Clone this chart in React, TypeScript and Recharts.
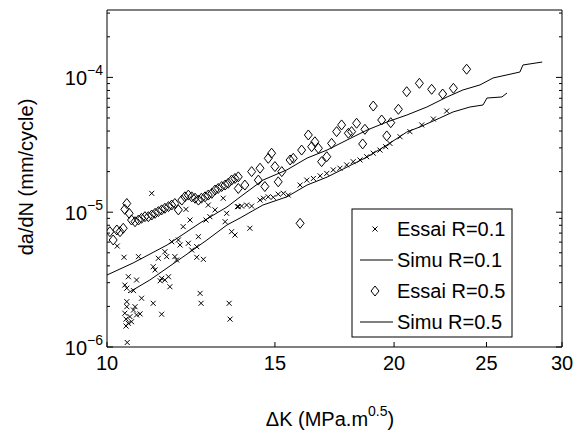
import React from 'react';
import { ComposedChart, XAxis, YAxis, Scatter, Line } from 'recharts';

// measured points, Essai R=0.1 (crosses)
const essaiR01K = [
  11.14, 10.25, 12.1, 12.77, 12.98, 12.7, 12.82, 13.35, 13.7, 13.3, 13.51, 13.62, 12.22, 12.02,
  10.42, 10.79, 11.69, 11.88, 11.93, 12.17, 12.47, 12.42, 12.27, 12.62, 12.42, 11.32, 11.5, 11.55,
  11.78, 11.83, 11.18, 11.23, 11.41, 11.5, 11.6, 11.64, 11.37, 10.53, 10.74, 10.44, 10.49, 10.66,
  10.87, 10.49, 10.49, 10.7, 10.66, 10.44, 10.57, 10.74, 10.83, 10.47, 10.53, 10.61, 10.47, 11.18,
  11.41, 12.52, 12.55, 13.43, 13.46, 10.5, 13.24, 14.12, 13.73, 13.84, 14.01, 14.18, 14.47, 14.59,
  14.76, 14.94, 15.12, 15.31, 15.49, 15.94, 16.2, 16.46, 16.73, 17.0, 17.27, 17.55, 17.84, 18.12,
  18.42, 18.72, 19.02, 19.33, 19.6, 19.8, 20.29, 20.78, 21.38, 21.99, 22.71,
];
const essaiR01Rate = [
  1.38e-5, 5.61e-6, 1.05e-5, 1.13e-5, 1.04e-5, 8.75e-6, 9.26e-6, 9.81e-6, 1.1e-5, 8.5e-6, 7.17e-6, 6.77e-6, 8.75e-6, 7.81e-6,
  4.63e-6, 4.68e-6, 6.04e-6, 6.22e-6, 5.71e-6, 5.88e-6, 6.58e-6, 5.55e-6, 5.24e-6, 4.47e-6, 4.63e-6, 4.55e-6, 5.09e-6, 4.68e-6,
  4.68e-6, 4.42e-6, 3.94e-6, 3.73e-6, 3.23e-6, 3.14e-6, 3.32e-6, 2.8e-6, 3.1e-6, 3.32e-6, 3.14e-6, 2.88e-6, 2.73e-6, 2.62e-6,
  2.3e-6, 2.17e-6, 1.99e-6, 1.99e-6, 1.88e-6, 1.78e-6, 1.68e-6, 1.73e-6, 1.76e-6, 1.61e-6, 1.5e-6, 1.54e-6, 1.43e-6, 2.11e-6,
  1.75e-6, 2.5e-6, 2.11e-6, 2.11e-6, 1.61e-6, 1.08e-6, 1.27e-5, 7.6e-6, 1.1e-5, 1.11e-5, 1.13e-5, 1.11e-5, 1.23e-5, 1.27e-5,
  1.3e-5, 1.29e-5, 1.36e-5, 1.38e-5, 1.34e-5, 1.59e-5, 1.73e-5, 1.78e-5, 1.86e-5, 1.94e-5, 2.06e-5, 2.12e-5, 2.24e-5, 2.37e-5,
  2.44e-5, 2.58e-5, 2.74e-5, 2.89e-5, 3.06e-5, 3.24e-5, 3.63e-5, 3.96e-5, 4.44e-5, 4.91e-5, 5.63e-5,
];

// measured points, Essai R=0.5 (diamonds)
const essaiR05K = [
  10.07, 10.15, 10.24, 10.32, 10.4, 10.44, 10.49, 10.55, 10.61, 10.7, 10.79, 10.87, 10.96, 11.05,
  11.14, 11.23, 11.32, 11.41, 11.5, 11.6, 11.69, 11.78, 11.88, 11.98, 12.07, 12.17, 12.27, 12.37,
  12.47, 12.56, 12.67, 12.77, 12.88, 12.98, 13.08, 13.19, 13.3, 13.4, 13.51, 13.62, 13.73, 13.73,
  13.95, 14.18, 14.41, 14.47, 14.64, 14.76, 14.88, 15.0, 15.12, 15.25, 15.56, 15.68, 15.94, 16.0,
  16.26, 16.39, 16.52, 16.66, 16.79, 17.0, 17.2, 17.41, 17.62, 17.91, 18.05, 18.27, 18.54, 18.64,
  19.02, 19.41, 19.65, 19.84, 20.21, 20.62, 21.26, 21.9, 22.49, 23.08, 23.83,
];
const essaiR05Rate = [
  7.17e-6, 6.22e-6, 7.38e-6, 7.17e-6, 7.6e-6, 1.05e-5, 1.16e-5, 9.81e-6, 8.75e-6, 8.5e-6, 8.75e-6, 9.01e-6, 9.26e-6, 9.26e-6,
  9.53e-6, 9.81e-6, 1.01e-5, 1.04e-5, 1.07e-5, 1.1e-5, 1.13e-5, 1.16e-5, 1.04e-5, 1.23e-5, 1.3e-5, 1.34e-5, 1.3e-5, 1.27e-5,
  1.23e-5, 1.27e-5, 1.3e-5, 1.34e-5, 1.38e-5, 1.46e-5, 1.5e-5, 1.55e-5, 1.59e-5, 1.64e-5, 1.73e-5, 1.78e-5, 1.83e-5, 1.5e-5,
  1.59e-5, 2.0e-5, 1.73e-5, 2.12e-5, 1.55e-5, 2.51e-5, 2.74e-5, 2.18e-5, 1.68e-5, 2.0e-5, 2.44e-5, 2.51e-5, 8.27e-6, 2.89e-5,
  3.74e-5, 3.06e-5, 3.33e-5, 2.98e-5, 2.37e-5, 2.58e-5, 3.24e-5, 3.96e-5, 4.44e-5, 3.85e-5, 3.96e-5, 4.57e-5, 3.21e-5, 4.12e-5,
  6.13e-5, 4.83e-5, 3.68e-5, 4.61e-5, 5.8e-5, 7.83e-5, 9.04e-5, 8.16e-5, 7.53e-5, 8.3e-5, 1.15e-4,
];

// simulation curves
const simuR01K = [10.52, 11.09, 12.01, 12.73, 13.36, 13.79, 14.57, 15.44, 16.21, 17.01, 17.85, 18.74, 19.66, 20.63, 21.29, 22.34, 23.06, 24.02, 24.79, 25.03, 25.95, 26.27];
const simuR01Rate = [2.52e-6, 3.14e-6, 4.65e-6, 6.22e-6, 8.04e-6, 9.06e-6, 1.13e-5, 1.3e-5, 1.59e-5, 1.82e-5, 2.16e-5, 2.57e-5, 3.15e-5, 3.94e-5, 4.29e-5, 5.0e-5, 5.54e-5, 6.03e-5, 6.24e-5, 7.03e-5, 7.16e-5, 7.66e-5];
const simuR05K = [10.0, 10.65, 11.56, 12.52, 13.36, 13.79, 14.57, 15.44, 16.21, 17.01, 17.85, 18.74, 19.66, 20.63, 21.65, 22.73, 23.62, 24.61, 25.4, 27.1, 27.3, 28.6];
const simuR05Rate = [3.42e-6, 4.2e-6, 5.71e-6, 8.32e-6, 1.093e-5, 1.297e-5, 1.73e-5, 2.06e-5, 2.52e-5, 2.89e-5, 3.43e-5, 4.07e-5, 4.67e-5, 5.26e-5, 6.03e-5, 7.16e-5, 8.07e-5, 8.79e-5, 9.9e-5, 1.096e-4, 1.236e-4, 1.3e-4];

const xTicks = [10, 15, 20, 25, 30];
const yDecades = [1e-6, 1e-5, 1e-4];
const yMinor = [2, 3, 4, 5, 6, 7, 8, 9];
const yTicks = [
  ...yDecades,
  ...yDecades.flatMap((d) => yMinor.map((m) => m * d)).filter((v) => v < 3.2e-4),
];
const legendNames = ['Essai R=0.1', 'Simu R=0.1', 'Essai R=0.5', 'Simu R=0.5'];

const pts = (ks: number[], vs: number[]) => ks.map((k, i) => ({ k, v: vs[i] }));

const FONT = '"Liberation Sans", Arial, Helvetica, sans-serif';

const isDecade = (v: number) => {
  const e = Math.log10(v);
  return Math.abs(e - Math.round(e)) < 1e-6;
};

const Cross = ({ cx, cy }: any) => (
  <path
    d={`M${cx - 2.5},${cy - 2.5}L${cx + 2.5},${cy + 2.5}M${cx - 2.5},${cy + 2.5}L${cx + 2.5},${cy - 2.5}`}
    stroke="#000"
    strokeWidth={1}
    fill="none"
  />
);

const Diamond = ({ cx, cy }: any) => (
  <path
    d={`M${cx},${cy - 5}L${cx + 4},${cy}L${cx},${cy + 5}L${cx - 4},${cy}Z`}
    stroke="#000"
    strokeWidth={1}
    fill="none"
  />
);

const LeftTick = ({ x, y, payload }: any) => {
  const v = payload.value;
  const major = isDecade(v);
  const e = Math.round(Math.log10(v));
  return (
    <g>
      <line x1={x} x2={x + (major ? 6 : 3)} y1={y} y2={y} stroke="#000" />
      {major && (
        <text x={x - 4} y={y + 8} textAnchor="end" fontSize={20} fontFamily={FONT} fill="#000">
          10<tspan dy={-10} fontSize={14}>{'\u2212' + Math.abs(e)}</tspan>
        </text>
      )}
    </g>
  );
};

const RightTick = ({ x, y, payload }: any) => {
  const major = isDecade(payload.value);
  return <line x1={x} x2={x - (major ? 6 : 3)} y1={y} y2={y} stroke="#000" />;
};

const BottomTick = ({ x, y, payload }: any) => (
  <g>
    <line x1={x} x2={x} y1={y} y2={y - 5} stroke="#000" />
    <text x={x} y={y + 23} textAnchor="middle" fontSize={20} fontFamily={FONT} fill="#000">
      {payload.value}
    </text>
  </g>
);

const TopTick = ({ x, y }: any) => <line x1={x} x2={x} y1={y} y2={y + 5} stroke="#000" />;

const LegendBox = () => {
  const rows = [229, 260, 291, 322];
  return (
    <g>
      <rect x={352} y={209} width={160} height={128} fill="#fff" stroke="#000" />
      {legendNames.map((name, i) => {
        const cy = rows[i];
        let icon;
        if (i === 0) icon = <Cross cx={375} cy={cy} />;
        else if (i === 2) icon = <Diamond cx={375} cy={cy} />;
        else icon = <line x1={360} x2={393} y1={cy} y2={cy} stroke="#000" />;
        return (
          <g key={name}>
            {icon}
            <text x={397} y={cy + 7} fontSize={20} fontFamily={FONT} fill="#000">
              {name}
            </text>
          </g>
        );
      })}
    </g>
  );
};

export default function App() {
  return (
    <div style={{ position: 'absolute', left: 0, top: 0, background: '#fff' }}>
      <ComposedChart width={576} height={437} margin={{ top: 9, right: 13, bottom: 60, left: 0 }}>
        <XAxis
          dataKey="k"
          type="number"
          scale="log"
          domain={[10, 30]}
          ticks={xTicks}
          interval={0}
          height={30}
          tickSize={0}
          tickMargin={0}
          tickLine={false}
          axisLine={{ stroke: '#000' }}
          tick={<BottomTick />}
          allowDataOverflow
        />
        <XAxis
          xAxisId="top"
          orientation="top"
          type="number"
          scale="log"
          domain={[10, 30]}
          ticks={xTicks}
          interval={0}
          height={1}
          tickSize={0}
          tickMargin={0}
          tickLine={false}
          axisLine={{ stroke: '#000' }}
          tick={<TopTick />}
          allowDataOverflow
        />
        <YAxis
          dataKey="v"
          type="number"
          scale="log"
          domain={[1e-6, 3.162e-4]}
          ticks={yTicks}
          interval={0}
          width={107}
          tickSize={0}
          tickMargin={0}
          tickLine={false}
          axisLine={{ stroke: '#000' }}
          tick={<LeftTick />}
          allowDataOverflow
        />
        <YAxis
          yAxisId="right"
          orientation="right"
          type="number"
          scale="log"
          domain={[1e-6, 3.162e-4]}
          ticks={yTicks}
          interval={0}
          width={1}
          tickSize={0}
          tickMargin={0}
          tickLine={false}
          axisLine={{ stroke: '#000' }}
          tick={<RightTick />}
          allowDataOverflow
        />
        <Line data={pts(simuR01K, simuR01Rate)} dataKey="v" stroke="#000" strokeWidth={1} dot={false} isAnimationActive={false} />
        <Line data={pts(simuR05K, simuR05Rate)} dataKey="v" stroke="#000" strokeWidth={1} dot={false} isAnimationActive={false} />
        <Scatter data={pts(essaiR01K, essaiR01Rate)} shape={<Cross />} isAnimationActive={false} />
        <Scatter data={pts(essaiR05K, essaiR05Rate)} shape={<Diamond />} isAnimationActive={false} />
        <text x={33} y={177} transform="rotate(-90, 33, 177)" textAnchor="middle" fontSize={20} fontFamily={FONT} fill="#000">
          da/dN (mm/cycle)
        </text>
        <text x={330} y={426} textAnchor="middle" fontSize={20} fontFamily={FONT} fill="#000">
          ΔK (MPa.m<tspan dy={-10} fontSize={14}>0.5</tspan><tspan dy={10}>)</tspan>
        </text>
        <LegendBox />
      </ComposedChart>
    </div>
  );
}
